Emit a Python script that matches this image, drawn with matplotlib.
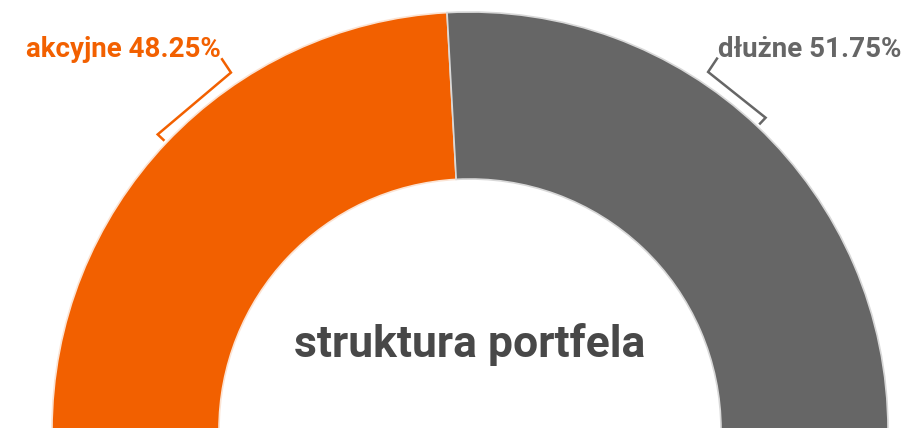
import numpy as np
import matplotlib
matplotlib.use('Agg')
import matplotlib.pyplot as plt

plt.rcParams['font.family'] = ['Roboto', 'DejaVu Sans']

# portfolio split (percent)
categories = ['akcyjne', 'dłużne']
shares = [48.25, 51.75]
colors = ['#F26000', '#666666']
title = 'struktura portfela'

CX, CY = 470, -430
R_OUT, R_IN = 418, 251


def polar(r, ang):
    a = np.deg2rad(ang)
    return CX + r * np.cos(a), CY + r * np.sin(a)


fig = plt.figure(figsize=(9.15, 4.28), dpi=100)
ax = fig.add_axes([0, 0, 1, 1])

# half donut: add an invisible wedge for the lower half
wedges, _ = ax.pie(shares + [sum(shares)], startangle=180, counterclock=False,
                   radius=R_OUT, center=(CX, CY),
                   colors=colors + ['none'],
                   wedgeprops=dict(width=R_OUT - R_IN, linewidth=1.2))
wedges[0].set_edgecolor('#fbe3d3')
wedges[1].set_edgecolor('#d8d8d8')
wedges[2].set_visible(False)

# bracket leaders + labels
for i, (w, cat, val, col) in enumerate(zip(wedges[:2], categories, shares, colors)):
    mid = (w.theta1 + w.theta2) / 2
    if mid > 90:
        end = mid - 12.8
        ha = 'right'
    else:
        end = mid + 9.8
        ha = 'left'
    p0 = polar(422, mid)
    p1 = polar(430, mid)
    p2 = polar(430, end)
    p3 = polar(446, end)
    ax.plot([p0[0], p1[0], p2[0], p3[0]], [p0[1], p1[1], p2[1], p3[1]],
            color=col, lw=1.8, solid_joinstyle='miter', clip_on=False)
    ax.text(p3[0] + (-1 if ha == 'right' else 1), p3[1] + 2,
            '%s %.2f%%' % (cat, val), ha=ha, va='baseline',
            fontsize=20, fontweight='bold', color=col)

ax.text(CX, -357, title, ha='center', va='baseline', fontsize=32,
        fontweight='bold', color='#484848')

ax.set_xlim(0, 915)
ax.set_ylim(-428, 0)
ax.set_aspect('equal')
ax.axis('off')

fig.savefig('out.png', dpi=100)
